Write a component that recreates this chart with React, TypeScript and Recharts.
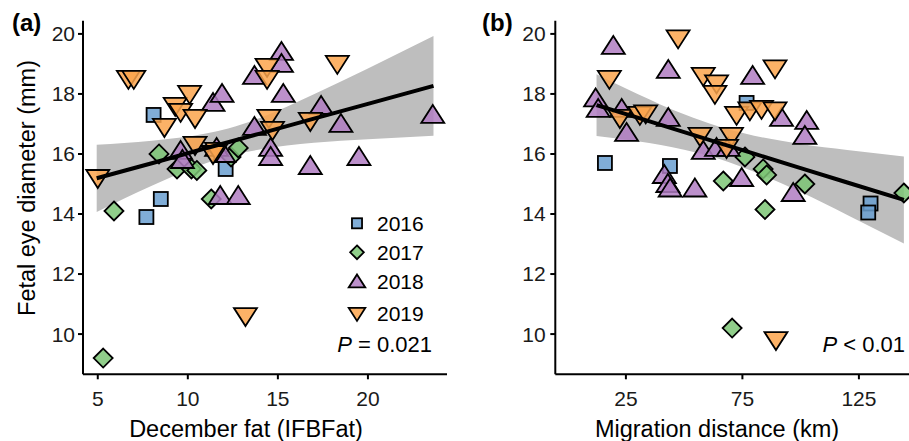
import React from 'react';
import { ComposedChart, Scatter, Area, Line, XAxis, YAxis } from 'recharts';

const years = ['2016', '2017', '2018', '2019'];
const colors: Record<string, string> = {
  '2016': '#6a9fd0',
  '2017': '#7cc576',
  '2018': '#b07cc2',
  '2019': '#fca44c',
};

// (a) December fat vs fetal eye diameter
const fat2016 = [
  { x: 8.1, y: 17.3 }, { x: 12.1, y: 15.5 }, { x: 8.5, y: 14.5 }, { x: 7.7, y: 13.9 },
];
const fat2017 = [
  { x: 8.4, y: 16.0 }, { x: 9.4, y: 15.5 }, { x: 10.2, y: 15.5 }, { x: 10.5, y: 15.45 },
  { x: 11.3, y: 14.5 }, { x: 12.4, y: 15.9 }, { x: 12.8, y: 16.2 }, { x: 5.9, y: 14.1 },
  { x: 5.3, y: 9.2 },
];
const fat2018 = [
  { x: 9.6, y: 16.1 }, { x: 9.7, y: 15.8 }, { x: 11.4, y: 17.7 }, { x: 11.9, y: 18.0 },
  { x: 11.6, y: 16.2 }, { x: 12.0, y: 16.0 }, { x: 11.8, y: 14.6 }, { x: 12.8, y: 14.6 },
  { x: 13.7, y: 18.6 }, { x: 15.2, y: 19.4 }, { x: 15.2, y: 19.0 }, { x: 15.3, y: 18.0 },
  { x: 13.7, y: 16.9 }, { x: 14.6, y: 16.2 }, { x: 14.6, y: 15.9 }, { x: 16.8, y: 15.6 },
  { x: 17.4, y: 17.6 }, { x: 18.5, y: 17.0 }, { x: 19.5, y: 15.9 }, { x: 23.6, y: 17.3 },
];
const fat2019 = [
  { x: 5.0, y: 15.2 }, { x: 6.7, y: 18.5 }, { x: 7.0, y: 18.5 }, { x: 9.3, y: 17.6 },
  { x: 9.6, y: 17.4 }, { x: 10.1, y: 18.0 }, { x: 10.4, y: 17.2 }, { x: 8.7, y: 16.9 },
  { x: 10.4, y: 16.3 }, { x: 11.6, y: 16.1 }, { x: 11.4, y: 16.0 }, { x: 14.4, y: 18.9 },
  { x: 14.4, y: 18.5 }, { x: 14.5, y: 17.2 }, { x: 14.7, y: 16.8 }, { x: 16.8, y: 17.1 },
  { x: 18.3, y: 19.0 }, { x: 13.2, y: 10.6 },
];
const fatBandX = [4.94, 8, 11, 12.24, 14, 17, 20, 23.64];
const fatBandLo = [14.07, 14.94, 15.69, 15.93, 16.15, 16.37, 16.49, 16.61];
const fatBandHi = [16.31, 16.44, 16.68, 16.85, 17.2, 17.99, 18.85, 19.93];
const fatFit = [15.19, 15.69, 16.19, 16.39, 16.68, 17.18, 17.67, 18.27];

// (b) migration distance vs fetal eye diameter
const mig2016 = [
  { x: 16.0, y: 15.7 }, { x: 43.9, y: 15.6 }, { x: 76.8, y: 17.7 }, { x: 130.0, y: 14.35 },
  { x: 129.0, y: 14.05 },
];
const mig2017 = [
  { x: 76.1, y: 15.9 }, { x: 66.8, y: 15.1 }, { x: 83.9, y: 15.5 }, { x: 85.4, y: 15.3 },
  { x: 101.8, y: 15.0 }, { x: 84.7, y: 14.15 }, { x: 144.3, y: 14.7 }, { x: 70.6, y: 10.2 },
];
const mig2018 = [
  { x: 19.6, y: 19.6 }, { x: 12.0, y: 17.85 }, { x: 13.1, y: 17.5 }, { x: 23.2, y: 17.5 },
  { x: 25.3, y: 16.7 }, { x: 43.2, y: 18.8 }, { x: 43.2, y: 17.2 }, { x: 41.5, y: 15.3 },
  { x: 43.0, y: 15.0 }, { x: 44.0, y: 14.85 }, { x: 54.6, y: 14.85 }, { x: 58.2, y: 16.1 },
  { x: 63.9, y: 16.2 }, { x: 68.9, y: 16.2 }, { x: 74.7, y: 15.2 }, { x: 79.4, y: 18.6 },
  { x: 91.8, y: 17.2 }, { x: 102.6, y: 17.1 }, { x: 101.8, y: 16.6 }, { x: 96.8, y: 14.7 },
];
const mig2019 = [
  { x: 17.9, y: 18.5 }, { x: 47.4, y: 19.85 }, { x: 22.4, y: 17.2 }, { x: 31.0, y: 17.3 },
  { x: 33.5, y: 17.35 }, { x: 58.2, y: 18.6 }, { x: 63.9, y: 18.35 }, { x: 63.2, y: 18.0 },
  { x: 72.5, y: 17.3 }, { x: 78.2, y: 17.45 }, { x: 83.2, y: 17.5 }, { x: 89.0, y: 17.45 },
  { x: 89.0, y: 18.85 }, { x: 56.8, y: 16.6 }, { x: 70.3, y: 16.6 }, { x: 68.2, y: 16.2 },
  { x: 89.4, y: 9.8 },
];
const migBandX = [12.4, 30, 50, 64.5, 80, 100, 120, 144.3];
const migBandLo = [16.6, 16.42, 16.14, 15.85, 15.41, 14.73, 13.97, 13.02];
const migBandHi = [18.66, 18.0, 17.32, 16.92, 16.61, 16.33, 16.13, 15.92];
const migFit = [17.63, 17.21, 16.73, 16.38, 16.01, 15.53, 15.05, 14.47];

const yTicks = [10, 12, 14, 16, 18, 20];
const fatTicks = [5, 10, 15, 20];
const migTicks = [25, 75, 125];

const fatSeries: Record<string, { x: number; y: number }[]> = {
  '2016': fat2016, '2017': fat2017, '2018': fat2018, '2019': fat2019,
};
const migSeries: Record<string, { x: number; y: number }[]> = {
  '2016': mig2016, '2017': mig2017, '2018': mig2018, '2019': mig2019,
};

const fatBand = fatBandX.map((x, i) => ({ x, range: [fatBandLo[i], fatBandHi[i]], fit: fatFit[i] }));
const migBand = migBandX.map((x, i) => ({ x, range: [migBandLo[i], migBandHi[i]], fit: migFit[i] }));

const FONT = '"Liberation Sans", Arial, sans-serif';

// marker drawing, s = scale
const marker = (year: string, cx: number, cy: number, s = 1) => {
  const fill = colors[year];
  const common = { fill, fillOpacity: 0.85, stroke: '#000', strokeWidth: 1.8, strokeLinejoin: 'miter' as const };
  if (year === '2016') {
    const h = 7 * s;
    return <rect x={cx - h} y={cy - h} width={2 * h} height={2 * h} {...common} />;
  }
  if (year === '2017') {
    const h = 9.5 * s;
    return <polygon points={`${cx},${cy - h} ${cx + h},${cy} ${cx},${cy + h} ${cx - h},${cy}`} {...common} />;
  }
  if (year === '2018') {
    const w = 11.5 * s;
    return <polygon points={`${cx},${cy - 10 * s} ${cx + w},${cy + 8 * s} ${cx - w},${cy + 8 * s}`} {...common} />;
  }
  const w = 11.5 * s;
  return <polygon points={`${cx - w},${cy - 8 * s} ${cx + w},${cy - 8 * s} ${cx},${cy + 10 * s}`} {...common} />;
};

const axisProps = {
  axisLine: { stroke: '#000', strokeWidth: 2 },
  tickLine: { stroke: '#000', strokeWidth: 2 },
  tick: { fill: '#1a1a1a', fontSize: 21, fontFamily: FONT },
  tickSize: 5,
};

const Panel = ({ band, series, xDomain, xTicks, width, yWidth, right, yMargin }: any) => (
  <ComposedChart
    width={width}
    height={441}
    data={band}
    margin={{ top: 20.7, right, bottom: 36.7, left: 0 }}
  >
    <XAxis
      type="number"
      dataKey="x"
      domain={xDomain}
      ticks={xTicks}
      allowDataOverflow
      height={30}
      tickMargin={12}
      {...axisProps}
    />
    <YAxis
      type="number"
      dataKey="y"
      domain={[8.66, 20.44]}
      ticks={yTicks}
      allowDataOverflow
      width={yWidth}
      tickMargin={yMargin}
      {...axisProps}
    />
    <Area
      dataKey="range"
      type="monotone"
      stroke="none"
      fill="#bebebe"
      fillOpacity={1}
      isAnimationActive={false}
      zIndex={100}
    />
    {years.map((yr) => (
      <Scatter
        key={yr}
        data={series[yr]}
        dataKey="y"
        isAnimationActive={false}
        zIndex={200}
        shape={(p: any) => marker(yr, p.cx, p.cy)}
      />
    ))}
    <Line
      dataKey="fit"
      type="linear"
      stroke="#000"
      strokeWidth={4}
      dot={false}
      isAnimationActive={false}
      zIndex={300}
    />
  </ComposedChart>
);

const legendRows = [223.3, 252.3, 281.7, 313.7];

export default function App() {
  return (
    <div
      style={{
        position: 'absolute', left: 0, top: 0, width: 909, height: 441,
        overflow: 'hidden', background: '#fff', fontFamily: FONT,
      }}
    >
      <div style={{ position: 'absolute', left: 0, top: 0 }}>
        <Panel band={fatBand} series={fatSeries} xDomain={[4.18, 24.39]} xTicks={fatTicks}
          width={460} yWidth={83} right={13} yMargin={3} />
      </div>
      <div style={{ position: 'absolute', left: 460, top: 0 }}>
        <Panel band={migBand} series={migSeries} xDomain={[-5.3, 146.5]} xTicks={migTicks}
          width={449} yWidth={95.3} right={0} yMargin={4.6} />
      </div>
      <svg width={909} height={441} style={{ position: 'absolute', left: 0, top: 0, pointerEvents: 'none' }}>
        <text x={12} y={31} fontSize={24} fontWeight="bold" fill="#000" fontFamily={FONT}>(a)</text>
        <text x={482} y={31} fontSize={24} fontWeight="bold" fill="#000" fontFamily={FONT}>(b)</text>
        <text x={35} y={188} fontSize={23.5} textAnchor="middle" fill="#000" fontFamily={FONT}
          transform="rotate(-90 35 188)">Fetal eye diameter (mm)</text>
        <text x={246} y={437} fontSize={23.5} textAnchor="middle" fill="#000" fontFamily={FONT}>December fat (IFBFat)</text>
        <text x={717} y={437} fontSize={23.5} textAnchor="middle" fill="#000" fontFamily={FONT}>Migration distance (km)</text>
        {years.map((yr, i) => (
          <g key={yr}>
            {marker(yr, 357, legendRows[i], 0.72)}
            <text x={377} y={legendRows[i] + 7.5} fontSize={21} fill="#000" fontFamily={FONT}>{yr}</text>
          </g>
        ))}
        <text x={432} y={352} fontSize={22} textAnchor="end" fill="#000" fontFamily={FONT}>
          <tspan fontStyle="italic">P</tspan> = 0.021
        </text>
        <text x={905} y={352} fontSize={22} textAnchor="end" fill="#000" fontFamily={FONT}>
          <tspan fontStyle="italic">P</tspan> &lt; 0.01
        </text>
      </svg>
    </div>
  );
}
